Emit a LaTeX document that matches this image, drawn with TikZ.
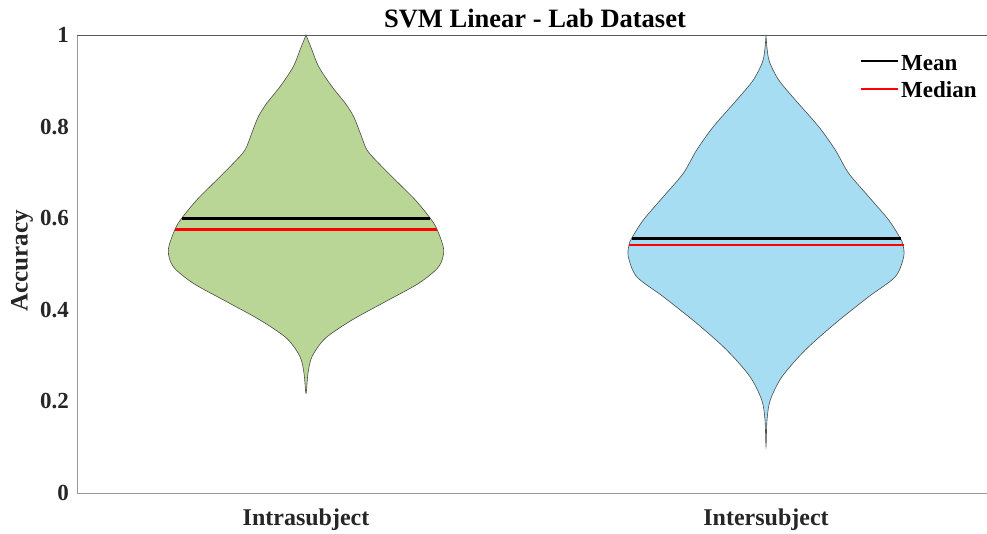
\documentclass[tikz,border=0pt]{standalone}
\usepackage{fontspec}
\setmainfont{Liberation Serif}
\definecolor{vgreen}{RGB}{185,214,151}
\definecolor{vblue}{RGB}{167,221,242}
\definecolor{axtext}{RGB}{38,38,38}
\begin{document}
\begin{tikzpicture}[x=1pt,y=-1pt,
  ticklab/.style={anchor=east,inner sep=0pt,text=axtext,font=\fontsize{23}{27}\selectfont\bfseries},
  xlab/.style={anchor=base,inner sep=0pt,text=axtext,font=\fontsize{24}{28}\selectfont\bfseries},
  leglab/.style={anchor=base west,inner sep=0pt,text=black,font=\fontsize{23}{27}\selectfont\bfseries},
  violin/.style={draw=black!70,line width=0.6pt},
  meanline/.style={black,line width=2.6pt},
  medline/.style={red,line width=2.6pt},
  axisline/.style={line width=1pt}]
\useasboundingbox (0,0) rectangle (987,533);
\fill[white] (0,0) rectangle (987,533);
% violin 1
\begin{scope}[shift={(306,0)}]
\path[violin,fill=vgreen] plot[smooth,tension=0.5] coordinates {
 (0,35) (-6,50) (-12.7,66.7) (-26,86.7) (-39.3,103.3) (-47.7,116.7) (-54.3,133.3) (-61,150) (-72.7,163.3) (-89.3,180) (-109.3,200) (-124.3,218.3) (-131,229.3) (-137.7,250) (-132.7,266.7) (-112.7,283.3) (-79.3,301.7) (-46,320) (-19.3,338.3) (-6,356.7) (-2,373.3) (0,393.3)
 (2,373.3) (6,356.7) (19.3,338.3) (46,320) (79.3,301.7) (112.7,283.3) (132.7,266.7) (137.7,250) (131,229.3) (124.3,218.3) (109.3,200) (89.3,180) (72.7,163.3) (61,150) (54.3,133.3) (47.7,116.7) (39.3,103.3) (26,86.7) (12.7,66.7) (6,50) (0,35)} -- cycle;
\end{scope}
% violin 2
\begin{scope}[shift={(766,0)}]
\path[violin,fill=vblue] plot[smooth,tension=0.5] coordinates {
 (0,35) (-1,48) (-3.5,62) (-12.7,80) (-29.3,100) (-52.7,126.7) (-69.3,150) (-82.7,173.3) (-102.7,196.7) (-122.7,220) (-134.3,238.3) (-137,245) (-137.7,256.7) (-129.3,276.7) (-102.7,296.7) (-69.3,323.3) (-39.3,350) (-16,376.7) (-4.3,400) (-1,420) (0,446.7)
 (1,420) (4.3,400) (16,376.7) (39.3,350) (69.3,323.3) (102.7,296.7) (129.3,276.7) (137.7,256.7) (137,245) (134.3,238.3) (122.7,220) (102.7,196.7) (82.7,173.3) (69.3,150) (52.7,126.7) (29.3,100) (12.7,80) (3.5,62) (1,48) (0,35)} -- cycle;
\end{scope}
% mean / median lines
\coordinate (m1l) at (182,218.3); \coordinate (m1r) at (430,218.3);
\coordinate (d1l) at (175,229.5); \coordinate (d1r) at (437,229.5);
\coordinate (m2l) at (632,238.5); \coordinate (m2r) at (901,238.5);
\coordinate (d2l) at (629,245);   \coordinate (d2r) at (904,245);
\draw[meanline] (m1l) -- (m1r);
\draw[medline] (d1l) -- (d1r);
\draw[meanline] (m2l) -- (m2r);
\draw[medline] (d2l) -- (d2r);
% axes
\coordinate (ax0) at (77,493); \coordinate (axtop) at (77,35);
\coordinate (axr) at (987,493); \coordinate (axtr) at (987,35);
\draw[axisline,black!40] (axtop) -- (ax0) -- (axr);
\draw[axisline,black!65] (axtop) -- (axtr);
% tick labels
\node[ticklab] (t0) at (69,493) {0};
\node[ticklab] (t2) at (69,401.4) {0.2};
\node[ticklab] (t4) at (69,309.8) {0.4};
\node[ticklab] (t6) at (69,218.2) {0.6};
\node[ticklab] (t8) at (69,126.6) {0.8};
\node[ticklab] (t10) at (69,35) {1};
\node[xlab] (xl1) at (306,525) {Intrasubject};
\node[xlab] (xl2) at (766,525) {Intersubject};
\node[rotate=90,inner sep=0pt,text=axtext,font=\fontsize{25}{29}\selectfont\bfseries] (ylab) at (22,261) {Accuracy};
\node[anchor=base,inner sep=0pt,text=black,font=\fontsize{26.5}{31}\selectfont\bfseries] (title) at (535,27) {SVM Linear - Lab Dataset};
% legend
\coordinate (lg1a) at (861,61); \coordinate (lg1b) at (898,61);
\coordinate (lg2a) at (861,89); \coordinate (lg2b) at (898,89);
\draw[black,line width=2.4pt] (lg1a) -- (lg1b);
\draw[red,line width=2.4pt] (lg2a) -- (lg2b);
\node[leglab] (lmean) at (901,70) {Mean};
\node[leglab] (lmed) at (901,97) {Median};
\end{tikzpicture}
\end{document}
